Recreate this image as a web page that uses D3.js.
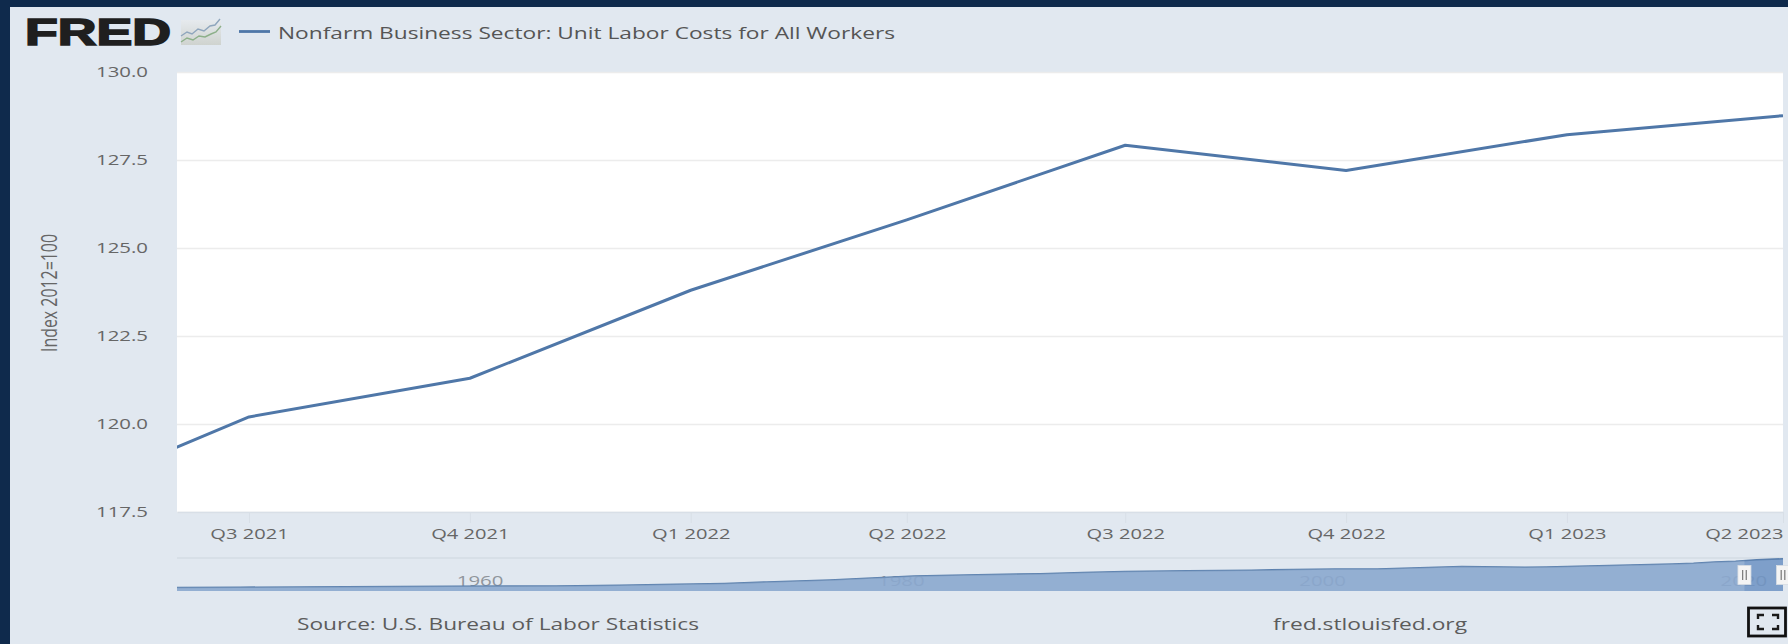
<!DOCTYPE html>
<html>
<head>
<meta charset="utf-8">
<title>Nonfarm Business Sector: Unit Labor Costs for All Workers</title>
<script src="https://cdn.jsdelivr.net/npm/d3@7/dist/d3.min.js"></script>
<style>
  html, body { margin: 0; padding: 0; background: #0f2a4c; }
  svg { display: block; }
  text { font-family: "Open Sans", sans-serif; }
</style>
</head>
<body>
<svg id="chart" width="1788" height="644"></svg>
<script>
// Quarterly unit labor cost index, 2012=100
const quarters = ["2021-04-01", "2021-07-01", "2021-10-01", "2022-01-01", "2022-04-01",
                  "2022-07-01", "2022-10-01", "2023-01-01", "2023-04-01"];
const laborCosts = [117.6, 120.2, 121.3, 123.8, 125.8, 127.92, 127.2, 128.22, 128.76];

// Long-run history for the range selector
const historyYears = [1947, 1950, 1955, 1960, 1965, 1968, 1970, 1973, 1975, 1978, 1980, 1982, 1985,
                      1988, 1990, 1992, 1995, 1998, 2000, 2002, 2004, 2006, 2008, 2009, 2011, 2012,
                      2014, 2016, 2018, 2019, 2020, 2021, 2022, 2023.25];
const historyValues = [14, 15, 17, 19, 20, 23, 26, 30, 36, 44, 52, 60, 65,
                       69, 74, 78, 81, 83, 86, 88, 88, 93, 98, 97, 95, 96,
                       100, 104, 108, 111, 116, 119, 125, 128.76];

const yTickValues = [117.5, 120, 122.5, 125, 127.5, 130];
const xTickDates = ["2021-07-01", "2021-10-01", "2022-01-01", "2022-04-01",
                    "2022-07-01", "2022-10-01", "2023-01-01", "2023-04-01"];
const historyTicks = [1960, 1980, 2000, 2020];
const visibleRange = ["2021-06-01", "2023-04-01"];
const selectedYears = [2021.42, 2023.25];

const seriesTitle = "Nonfarm Business Sector: Unit Labor Costs for All Workers";
const yTitle = "Index 2012=100";
const sourceText = "Source: U.S. Bureau of Labor Statistics";
const siteText = "fred.stlouisfed.org";

const colors = {
  frame: "#0f2a4c", panel: "#e1e8f0", line: "#4f77a8", grid: "#ececec",
  label: "#666666", tick: "#d8dfe7", rule: "#cdd5dd",
  area: "#6f94c4", mask: "#93abca", historyLine: "#5b80ae"
};

const plot = { left: 177, right: 1783, top: 72, bottom: 512 };
const nav = { top: 558, bottom: 591 };

const svg = d3.select("#chart");
const parseDay = d3.utcParse("%Y-%m-%d");

// The fonts here run narrower than the chart's lettering, so labels are widened in place
function widen(selection, factor) {
  selection.each(function () {
    const natural = this.getComputedTextLength();
    d3.select(this).attr("textLength", natural * factor).attr("lengthAdjust", "spacingAndGlyphs");
  });
}

// Page frame and panel
svg.append("rect").attr("width", 1788).attr("height", 644).attr("fill", colors.frame);
svg.append("rect").attr("x", 10).attr("y", 7).attr("width", 1778).attr("height", 637).attr("fill", colors.panel);
svg.append("rect").attr("x", plot.left).attr("y", plot.top)
  .attr("width", plot.right - plot.left).attr("height", plot.bottom - plot.top).attr("fill", "#ffffff");

// Scales
const x = d3.scaleUtc().domain(visibleRange.map(parseDay)).range([plot.left, plot.right]);
const y = d3.scaleLinear().domain([117.5, 130]).range([plot.bottom, plot.top]);
const xHistory = d3.scaleLinear().domain([1947, 2023.25]).range([plot.left, plot.right]);
const yHistory = d3.scaleLinear().domain([0, 132]).range([nav.bottom, nav.top]);

// Value axis with full-width grid lines
const yAxis = svg.append("g").attr("transform", `translate(${plot.left},0)`)
  .call(d3.axisLeft(y).tickValues(yTickValues).tickFormat(d3.format(".1f"))
    .tickSize(-(plot.right - plot.left)).tickPadding(29));
yAxis.select(".domain").remove();
yAxis.selectAll(".tick line").attr("stroke", colors.grid).attr("stroke-width", 1.3);
yAxis.selectAll(".tick text").attr("fill", colors.label).attr("font-size", 15).call(widen, 1.36);

// Quarter axis
const quarterLabel = d => `Q${Math.floor(d.getUTCMonth() / 3) + 1} ${d.getUTCFullYear()}`;
const xAxis = svg.append("g").attr("transform", `translate(0,${plot.bottom})`)
  .call(d3.axisBottom(x).tickValues(xTickDates.map(parseDay)).tickFormat(quarterLabel)
    .tickSize(11).tickSizeOuter(0).tickPadding(5));
xAxis.select(".domain").attr("stroke", colors.tick).attr("stroke-width", 1.5);
xAxis.selectAll(".tick line").attr("stroke", colors.tick);
xAxis.selectAll(".tick text").attr("fill", colors.label).attr("font-size", 15).call(widen, 1.34);
// The final label is pulled back so it ends at the plot edge
xAxis.selectAll(".tick text").filter((d, i, n) => i === n.length - 1).attr("text-anchor", "end");

// Axis title
svg.append("text").attr("transform", "translate(57,293) rotate(-90)")
  .attr("text-anchor", "middle").attr("fill", colors.label).attr("font-size", 21)
  .attr("textLength", 118).attr("lengthAdjust", "spacingAndGlyphs").text(yTitle);

// Main series, clipped to the plot
svg.append("clipPath").attr("id", "plot-clip").append("rect")
  .attr("x", plot.left).attr("y", plot.top - 2)
  .attr("width", plot.right - plot.left).attr("height", plot.bottom - plot.top + 2);
const seriesLine = d3.line().x(d => x(d.date)).y(d => y(d.value));
svg.append("path")
  .datum(quarters.map((q, i) => ({ date: parseDay(q), value: laborCosts[i] })))
  .attr("clip-path", "url(#plot-clip)")
  .attr("fill", "none").attr("stroke", colors.line).attr("stroke-width", 3)
  .attr("stroke-linejoin", "round").attr("d", seriesLine);

// Legend row
svg.append("line").attr("x1", 239).attr("x2", 270).attr("y1", 31.5).attr("y2", 31.5)
  .attr("stroke", colors.line).attr("stroke-width", 2.8);
svg.append("text").attr("x", 278).attr("y", 38.5).attr("fill", "#555555").attr("font-size", 16.5)
  .attr("font-weight", 500).attr("textLength", 617).attr("lengthAdjust", "spacingAndGlyphs").text(seriesTitle);

// Wordmark and its small line icon
svg.append("text").attr("x", 25).attr("y", 44.5).attr("fill", "#1f1f1f")
  .attr("stroke", "#1f1f1f").attr("stroke-width", 1.6)
  .style("font-family", "'Liberation Sans', sans-serif").attr("font-weight", 700).attr("font-size", 36.5)
  .attr("textLength", 146).attr("lengthAdjust", "spacingAndGlyphs").text("FRED");
const iconFill = svg.append("defs").append("linearGradient").attr("id", "icon-fill")
  .attr("x1", 0).attr("x2", 0).attr("y1", 0).attr("y2", 1);
iconFill.append("stop").attr("offset", 0).attr("stop-color", "#e6eaee");
iconFill.append("stop").attr("offset", 1).attr("stop-color", "#cfd3cf");
svg.append("rect").attr("x", 181).attr("y", 20).attr("width", 40).attr("height", 25).attr("fill", "url(#icon-fill)");
svg.append("path").attr("d", "M181 36l6-4 5 2 6-5 6 2 6-5 5-1 5-6").attr("fill", "none").attr("stroke", "#8fa6bd").attr("stroke-width", 1.4);
svg.append("path").attr("d", "M181 42l6-4 6 2 6-4 6 1 6-3 5-2 5-6").attr("fill", "none").attr("stroke", "#8db08a").attr("stroke-width", 1.4);

// Range selector: rule, year labels, history area, shading outside the selected range
svg.append("line").attr("x1", plot.left).attr("x2", plot.right).attr("y1", nav.top).attr("y2", nav.top)
  .attr("stroke", colors.rule).attr("stroke-width", 1.2);
svg.append("g").selectAll("text").data(historyTicks).join("text")
  .attr("x", d => xHistory(d) + 6).attr("y", 585.5).attr("fill", "#8f959c").attr("font-size", 15)
  .text(d => d).call(widen, 1.36);

const history = historyYears.map((year, i) => ({ year, value: historyValues[i] }));
const historyArea = d3.area().x(d => xHistory(d.year)).y0(nav.bottom).y1(d => yHistory(d.value));
const historyTop = d3.line().x(d => xHistory(d.year)).y(d => yHistory(d.value));
svg.append("path").datum(history).attr("fill", colors.area).attr("fill-opacity", 0.88).attr("d", historyArea);
svg.append("path").datum(history).attr("fill", "none").attr("stroke", colors.historyLine)
  .attr("stroke-width", 1.6).attr("d", historyTop);

// Lighter wash over everything left of the selection
svg.append("clipPath").attr("id", "history-clip").append("path").datum(history).attr("d", historyArea);
svg.append("rect").attr("clip-path", "url(#history-clip)")
  .attr("x", plot.left).attr("y", nav.top)
  .attr("width", xHistory(selectedYears[0]) - plot.left).attr("height", nav.bottom - nav.top)
  .attr("fill", "#e1e8f0").attr("fill-opacity", 0.22);

// Selection handles
const handles = svg.append("g").selectAll("g").data(selectedYears).join("g")
  .attr("transform", d => `translate(${xHistory(d)},575)`);
handles.append("rect").attr("x", -6.5).attr("y", -9.5).attr("width", 13).attr("height", 19)
  .attr("fill", "#f4f4f4").attr("stroke", "#d8dde3").attr("stroke-width", 0.8);
handles.selectAll("line").data([-1.8, 1.8]).join("line")
  .attr("x1", d => d).attr("x2", d => d).attr("y1", -5).attr("y2", 5)
  .attr("stroke", "#777777").attr("stroke-width", 1.2);

// Footer
svg.append("text").attr("x", 297).attr("y", 630).attr("fill", "#5c5c5c").attr("font-size", 16)
  .attr("textLength", 402).attr("lengthAdjust", "spacingAndGlyphs").text(sourceText);
svg.append("text").attr("x", 1273).attr("y", 630).attr("fill", "#5c5c5c").attr("font-size", 16)
  .attr("textLength", 194).attr("lengthAdjust", "spacingAndGlyphs").text(siteText);

// Full-screen button
svg.append("rect").attr("x", 1748.5).attr("y", 608).attr("width", 37).attr("height", 28)
  .attr("fill", "none").attr("stroke", "#111111").attr("stroke-width", 2.8);
svg.append("path")
  .attr("d", "M1758 619v-4h6M1772 615h6v4M1758 625v4h6M1772 629h6v-4")
  .attr("fill", "none").attr("stroke", "#1a1a1a").attr("stroke-width", 2.4);
</script>
</body>
</html>
